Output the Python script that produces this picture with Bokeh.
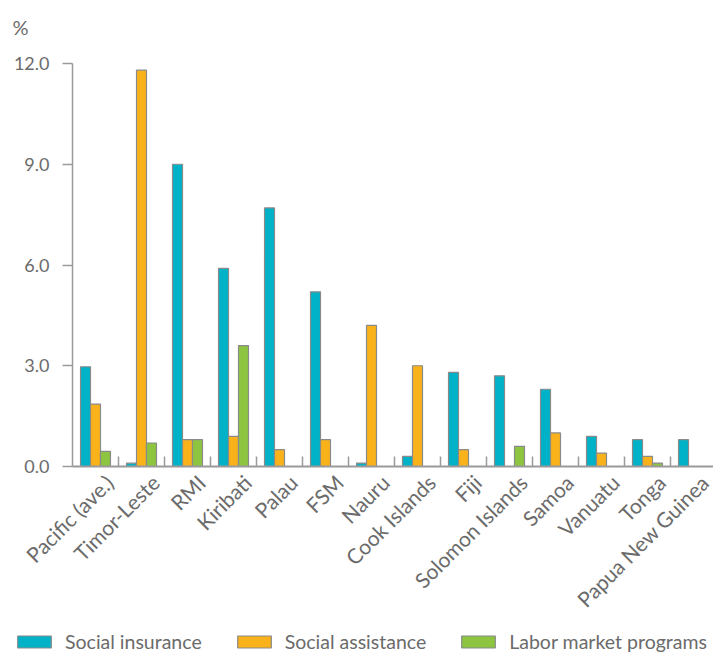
import math
from bokeh.plotting import figure
from bokeh.models import (ColumnDataSource, Range1d, FixedTicker, LinearAxis,
                          Legend, LegendItem, Label, NumeralTickFormatter)
from bokeh.transform import dodge
from bokeh.embed import file_html
from bokeh.resources import INLINE

nan = float("nan")

categories = ["Pacific (ave.)", "Timor-Leste", "RMI", "Kiribati", "Palau", "FSM",
              "Nauru", "Cook Islands", "Fiji", "Solomon Islands", "Samoa",
              "Vanuatu", "Tonga", "Papua New Guinea"]
social_insurance = [2.97, 0.1, 9.0, 5.9, 7.7, 5.2, 0.1, 0.3, 2.8, 2.7, 2.3, 0.9, 0.8, 0.8]
social_assistance = [1.86, 11.8, 0.8, 0.9, 0.5, 0.8, 4.2, 3.0, 0.5, nan, 1.0, 0.4, 0.3, nan]
labor_market = [0.45, 0.7, 0.8, 3.6, nan, nan, nan, nan, nan, 0.6, nan, nan, 0.1, nan]
y_ticks = [0, 3, 6, 9, 12]
series_names = ["Social insurance", "Social assistance", "Labor market programs"]
series_colors = ["#00B2C7", "#F9B219", "#8DC540"]

FONT = "Lato"
TXT = "#6b6b6b"
AX = "#9a9a9a"

n = len(categories)
centers = [i + 0.5 for i in range(n)]
src = ColumnDataSource(dict(x=centers, si=social_insurance, sa=social_assistance, lm=labor_market))

W, H = 713, 653
# pixel layout of the plotting area inside the canvas
left_px, top_px, bottom_px = 72, 63, 466
cat_px = 46.0
ymax_val = 12.0
ppu = (bottom_px - top_px) / ymax_val
x_start = -left_px / cat_px
x_end = (W - left_px) / cat_px
y_start = -(H - bottom_px) / ppu
y_end = ymax_val + top_px / ppu

p = figure(width=W, height=H, output_backend="svg", toolbar_location=None,
           x_range=Range1d(x_start, x_end), y_range=Range1d(y_start, y_end),
           min_border=0, x_axis_type=None, y_axis_type=None)
p.title.visible = False
p.outline_line_color = None
p.grid.visible = False
p.background_fill_color = "white"
p.border_fill_color = "white"

bw = 0.217
renderers = []
for col, off, color in zip(["si", "sa", "lm"], [-bw, 0, bw], series_colors):
    r = p.vbar(x=dodge("x", off), top=col, bottom=0, width=bw, source=src,
               fill_color=color, line_color="#8a8a8a", line_width=1.2)
    renderers.append(r)

# y axis
yax = LinearAxis(ticker=FixedTicker(ticks=y_ticks),
                 formatter=NumeralTickFormatter(format="0.0"),
                 fixed_location=0, bounds=(0, ymax_val))
yax.axis_line_color = AX
yax.axis_line_width = 1.5
yax.major_tick_line_color = AX
yax.major_tick_line_width = 1.5
yax.major_tick_in = 0
yax.major_tick_out = 10
yax.minor_tick_line_color = None
yax.major_label_text_font = FONT
yax.major_label_text_font_size = "18px"
yax.major_label_text_color = TXT
yax.major_label_standoff = 13
p.add_layout(yax, "left")

# x axis
lab_shift = 0.3
xax = LinearAxis(ticker=FixedTicker(ticks=[c + lab_shift for c in centers],
                                    minor_ticks=list(range(1, n))),
                 fixed_location=0, bounds=(0, x_end))
xax.major_label_overrides = {c + lab_shift: lab for c, lab in zip(centers, categories)}
xax.axis_line_color = AX
xax.axis_line_width = 2
xax.major_tick_line_color = None
xax.major_tick_in = 0
xax.major_tick_out = 0
xax.minor_tick_line_color = AX
xax.minor_tick_line_width = 1.5
xax.minor_tick_in = 10
xax.minor_tick_out = 0
xax.major_label_orientation = math.pi / 4
xax.major_label_text_font = FONT
xax.major_label_text_font_size = "21px"
xax.major_label_text_color = TXT
xax.major_label_standoff = 12
p.add_layout(xax, "below")

# "%" unit label
p.add_layout(Label(x=12, y=H - 14, x_units="screen", y_units="screen", text="%",
                   text_font=FONT, text_font_size="20px", text_color=TXT,
                   text_baseline="top"))

legend = Legend(items=[LegendItem(label=nm, renderers=[r]) for nm, r in zip(series_names, renderers)],
                orientation="horizontal", location=(13, 0))
legend.border_line_color = None
legend.background_fill_alpha = 0
legend.padding = 0
legend.margin = 0
legend.spacing = 31
legend.glyph_width = 42
legend.glyph_height = 15
legend.label_height = 15
legend.label_standoff = 10
legend.label_text_font = FONT
legend.label_text_font_size = "19.5px"
legend.label_text_color = TXT
p.add_layout(legend, "center")

open("out.html", "w").write(file_html(p, INLINE))
